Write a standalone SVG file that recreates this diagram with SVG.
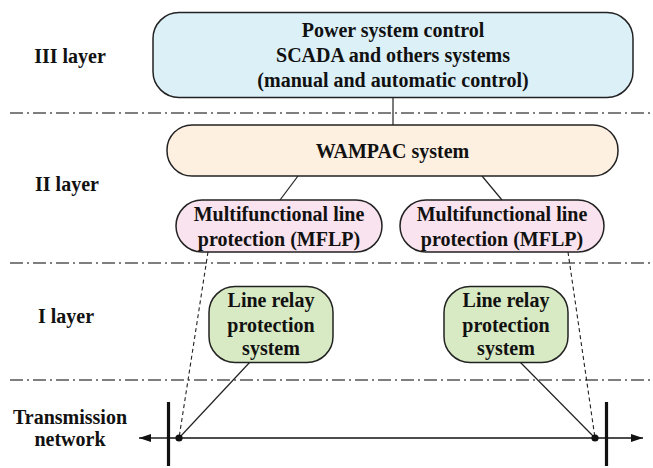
<svg xmlns="http://www.w3.org/2000/svg" width="653" height="468" viewBox="0 0 653 468">
  <defs>
    <style>
      text { font-family: 'Liberation Serif', 'Times New Roman', Times, 'DejaVu Serif', serif; font-weight: 700; font-size: 20px; fill: #111; text-anchor: middle; }
      .box { stroke: #222; stroke-width: 1.5; }
      .sep { stroke: #555; stroke-width: 1.6; stroke-dasharray: 13 4 2 4; fill: none; }
      .conn { stroke: #222; stroke-width: 1.2; fill: none; }
      .dash { stroke: #222; stroke-width: 1.1; fill: none; stroke-dasharray: 4 3; }
    </style>
    <marker id="arr" viewBox="0 0 12 8" refX="12" refY="4" markerWidth="12" markerHeight="8" markerUnits="userSpaceOnUse" orient="auto">
      <path d="M0,0 L12,4 L0,8 Z" fill="#111"/>
    </marker>
  </defs>
  <rect width="653" height="468" fill="#fff"/>

  <g id="separators">
    <line class="sep" x1="10" y1="113" x2="653" y2="113"/>
    <line class="sep" x1="10" y1="263" x2="653" y2="263"/>
    <line class="sep" x1="10" y1="380" x2="653" y2="380"/>
  </g>

  <g id="layer-labels" font-family="Liberation Serif, serif">
    <text x="70" y="63">III layer</text>
    <text x="67" y="191">II layer</text>
    <text x="66" y="323">I layer</text>
    <text x="70" y="424">Transmission</text>
    <text x="70" y="446">network</text>
  </g>

  <g id="connectors">
    <line class="conn" x1="393" y1="98" x2="393" y2="125"/>
    <line class="conn" x1="298" y1="176" x2="280" y2="200"/>
    <line class="conn" x1="482" y1="176" x2="502" y2="200"/>
    <line class="dash" x1="208" y1="252" x2="179" y2="438"/>
    <line class="dash" x1="568" y1="252" x2="595" y2="438"/>
    <line class="conn" x1="250" y1="362" x2="179" y2="438"/>
    <line class="conn" x1="520" y1="362" x2="595" y2="438"/>
  </g>

  <g id="transmission-network">
    <line stroke="#111" stroke-width="1.4" x1="170" y1="438" x2="139" y2="438" marker-end="url(#arr)"/>
    <line stroke="#111" stroke-width="1.4" x1="170" y1="438" x2="643" y2="438" marker-end="url(#arr)"/>
    <line stroke="#111" stroke-width="3.2" x1="168.5" y1="402" x2="168.5" y2="466"/>
    <line stroke="#111" stroke-width="3.2" x1="606.5" y1="402" x2="606.5" y2="466"/>
    <circle cx="179" cy="438" r="3.6" fill="#111"/>
    <circle cx="595" cy="438" r="3.6" fill="#111"/>
  </g>

  <g id="power-system-control">
    <rect class="box" x="153" y="12.5" width="480" height="85" rx="26" ry="26" fill="#dcf0f8"/>
    <text x="393" y="37">Power system control</text>
    <text x="393" y="62">SCADA and others systems</text>
    <text x="393" y="87">(manual and automatic control)</text>
  </g>

  <g id="wampac">
    <rect class="box" x="167" y="125" width="451" height="51" rx="25" ry="25" fill="#fdf0e1"/>
    <text x="392.5" y="158">WAMPAC system</text>
  </g>

  <g id="mflp-left">
    <rect class="box" x="176" y="200" width="206" height="52" rx="26" ry="26" fill="#f9e3ee"/>
    <text x="279" y="221">Multifunctional line</text>
    <text x="279" y="246">protection (MFLP)</text>
  </g>

  <g id="mflp-right">
    <rect class="box" x="400" y="200" width="204" height="52" rx="26" ry="26" fill="#f9e3ee"/>
    <text x="502" y="221">Multifunctional line</text>
    <text x="502" y="246">protection (MFLP)</text>
  </g>

  <g id="relay-left">
    <rect class="box" x="209" y="286.5" width="124" height="76" rx="26" ry="26" fill="#d8eac3"/>
    <text x="271" y="307">Line relay</text>
    <text x="271" y="332">protection</text>
    <text x="271" y="355">system</text>
  </g>

  <g id="relay-right">
    <rect class="box" x="444" y="286.5" width="124" height="76" rx="26" ry="26" fill="#d8eac3"/>
    <text x="506" y="307">Line relay</text>
    <text x="506" y="332">protection</text>
    <text x="506" y="355">system</text>
  </g>
</svg>
